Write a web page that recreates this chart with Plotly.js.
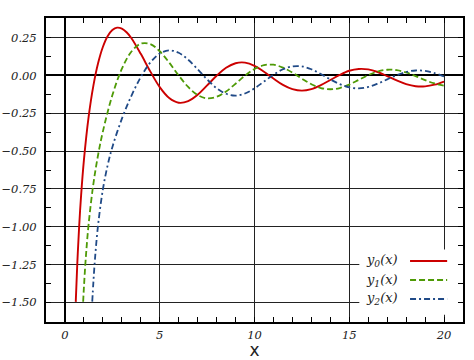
<!DOCTYPE html>
<html>
<head>
<meta charset="utf-8">
<script src="https://cdn.plot.ly/plotly-3.0.1.min.js"></script>
<style>html,body{margin:0;padding:0;background:#fff;}#chart{width:474px;height:360px;}</style>
</head>
<body>
<div id="chart"></div>
<script>
// Spherical Bessel functions of the second kind
const x0 = [0.57,0.65,0.75,0.85,1.0,1.25,1.5,1.75,2.0,2.25,2.5,2.75,3.0,3.25,3.5,4.0,4.5,5.0,5.5,6.0,6.5,7.0,7.5,8.0,8.5,9.0,9.5,10.0,10.5,11.0,11.5,12.0,12.5,13.0,13.5,14.0,14.5,15.0,15.5,16.0,16.5,17.0,17.5,18.0,18.5,19.0,19.5,20.0];
const y0 = [-1.497,-1.245,-0.996,-0.796,-0.560,-0.272,-0.067,0.082,0.188,0.259,0.300,0.316,0.310,0.286,0.248,0.143,0.027,-0.077,-0.149,-0.180,-0.170,-0.128,-0.066,-0.002,0.051,0.081,0.085,0.064,0.025,-0.020,-0.062,-0.090,-0.100,-0.090,-0.064,-0.030,0.004,0.031,0.043,0.040,0.023,-0.004,-0.033,-0.057,-0.071,-0.072,-0.061,-0.040];

const x1 = [0.96,1.0,1.1,1.25,1.5,1.75,2.0,2.5,3.0,3.5,4.0,4.5,5.0,5.5,6.0,6.5,7.0,7.5,8.0,8.5,9.0,9.5,10.0,10.5,11.0,11.5,12.0,12.5,13.0,13.5,14.0,14.5,15.0,15.5,16.0,16.5,17.0,17.5,18.0,18.5,19.0,19.5,20.0];
const y1 = [-1.496,-1.402,-1.205,-0.981,-0.716,-0.524,-0.371,-0.131,0.043,0.157,0.210,0.208,0.160,0.085,0.000,-0.076,-0.129,-0.151,-0.141,-0.106,-0.055,-0.001,0.043,0.068,0.071,0.052,0.019,-0.021,-0.058,-0.083,-0.091,-0.083,-0.060,-0.029,0.002,0.026,0.038,0.035,0.020,-0.004,-0.031,-0.053,-0.067];

const x2 = [1.44,1.5,1.6,1.75,2.0,2.25,2.5,3.0,3.5,4.0,4.5,5.0,5.5,6.0,6.5,7.0,7.5,8.0,8.5,9.0,9.5,10.0,10.5,11.0,11.5,12.0,12.5,13.0,13.5,14.0,14.5,15.0,15.5,16.0,16.5,17.0,17.5,18.0,18.5,19.0,19.5,20.0];
const y2 = [-1.495,-1.366,-1.188,-0.986,-0.754,-0.595,-0.474,-0.287,-0.136,-0.011,0.085,0.145,0.166,0.150,0.104,0.041,-0.026,-0.084,-0.121,-0.133,-0.119,-0.085,-0.040,0.005,0.041,0.060,0.060,0.041,0.010,-0.026,-0.057,-0.079,-0.085,-0.076,-0.054,-0.026,0.002,0.023,0.033,0.030,0.016,-0.007];

const seriesNames = ['<i>y</i><sub>0</sub>(<i>x</i>)','<i>y</i><sub>1</sub>(<i>x</i>)','<i>y</i><sub>2</sub>(<i>x</i>)'];
const colors = ['#cc0000','#4e9a06','#204a87'];
const dashes = ['solid','6px,3px','6px,3px,2px,3px'];
const xTickVals = [0,5,10,15,20];

const xs = [x0,x1,x2], ys = [y0,y1,y2];
const traces = xs.map((xx,i)=>({
  x: xx, y: ys[i], type:'scatter', mode:'lines', name: seriesNames[i],
  line:{color:colors[i], width: i===0?1.9:1.8, dash:dashes[i], shape:'spline', smoothing:1},
  showlegend:false, hoverinfo:'skip'
}));

const tickFont = {family:'DejaVu Serif', style:'italic', size:11.5, color:'#222'};
const axisCommon = {
  showline:true, linecolor:'#000', linewidth:2, mirror:'allticks',
  showgrid:true, gridcolor:'#222', gridwidth:1,
  zeroline:true, zerolinecolor:'#000', zerolinewidth:2,
  ticks:'inside', ticklen:5, tickcolor:'#000', tickwidth:1,
  tickfont: tickFont, fixedrange:true
};

const legendY = [0.2007, 0.138, 0.0757];
const annotations = seriesNames.map((t,i)=>({
  xref:'paper', yref:'paper', x:0.849, y:legendY[i], xanchor:'right', yanchor:'middle',
  text:t, showarrow:false, font:{family:'DejaVu Serif', style:'italic', size:13, color:'#222'}
}));
const shapes = [{
  type:'rect', xref:'x', yref:'y', x0:15.53, x1:20.93, y0:-1.582, y1:-1.151,
  fillcolor:'#fff', line:{width:0}, layer:'between'
}].concat(seriesNames.map((t,i)=>({
  type:'line', xref:'paper', yref:'paper', x0:0.873, x1:0.962, y0:legendY[i], y1:legendY[i],
  line:{color:colors[i], width:1.9, dash:dashes[i]}, layer:'above'
})));

const layout = {
  width:474, height:360,
  margin:{l:46, r:11, t:18, b:38, pad:0},
  paper_bgcolor:'#fff', plot_bgcolor:'#fff',
  showlegend:false,
  xaxis: Object.assign({}, axisCommon, {
    range:[-1,21], tickvals:xTickVals, ticktext:xTickVals.map(String),
    minor:{dtick:1, tick0:0, ticks:'inside', ticklen:5, tickcolor:'#000', showgrid:false},
    ticklabelstandoff:1,
    title:{text:'x', font:{family:'DejaVu Sans', size:17, color:'#222'}, standoff:2}
  }),
  yaxis: Object.assign({}, axisCommon, {
    range:[-1.63,0.38], dtick:0.25, tick0:0, tickformat:'.2f',
    minor:{dtick:0.125, tick0:0, ticks:'inside', ticklen:5, tickcolor:'#000', showgrid:false},
    ticklabelstandoff:5
  }),
  annotations: annotations,
  shapes: shapes
};

Plotly.newPlot('chart', traces, layout, {staticPlot:true, displayModeBar:false});
</script>
</body>
</html>
